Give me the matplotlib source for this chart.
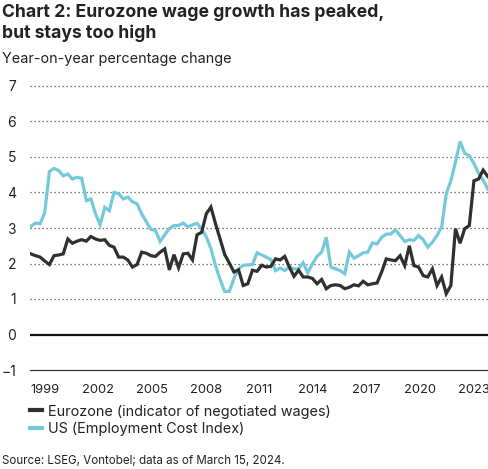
import numpy as np
import matplotlib
matplotlib.use("Agg")
import matplotlib.pyplot as plt

# quarterly, 1999Q1 - 2023Q4, year-on-year % change
eurozone = [2.27, 2.22, 2.18, 2.07, 1.97, 2.22, 2.24, 2.27, 2.69, 2.57,
            2.63, 2.67, 2.63, 2.76, 2.69, 2.65, 2.67, 2.51, 2.46, 2.18,
            2.18, 2.10, 1.90, 1.97, 2.32, 2.29, 2.22, 2.20, 2.32, 2.41,
            1.82, 2.25, 1.88, 2.27, 2.29, 2.10, 2.81, 2.88, 3.40, 3.59,
            3.12, 2.69, 2.25, 2.01, 1.76, 1.82, 1.38, 1.43, 1.81, 1.78,
            1.95, 1.90, 1.92, 2.13, 2.10, 2.20, 1.90, 1.64, 1.81, 1.62,
            1.62, 1.58, 1.43, 1.55, 1.29, 1.38, 1.40, 1.38, 1.29, 1.33,
            1.40, 1.37, 1.50, 1.40, 1.43, 1.45, 1.76, 2.13, 2.10, 2.08,
            2.22, 1.94, 2.50, 1.94, 1.90, 1.66, 1.62, 1.85, 1.38, 1.62,
            1.15, 1.38, 2.98, 2.57, 2.98, 3.07, 4.33, 4.38, 4.63, 4.45]

us_eci = [3.05, 3.14, 3.12, 3.44, 4.59, 4.68, 4.62, 4.47, 4.52, 4.38,
          4.43, 4.40, 3.77, 3.82, 3.40, 3.09, 3.58, 3.49, 4.00, 3.97,
          3.82, 3.87, 3.74, 3.68, 3.40, 3.18, 2.96, 2.93, 2.62, 2.81,
          2.98, 3.07, 3.07, 3.14, 3.03, 3.09, 3.13, 2.98, 2.75, 2.42,
          1.94, 1.55, 1.21, 1.22, 1.58, 1.85, 1.95, 1.96, 1.97, 2.30,
          2.24, 2.18, 2.11, 1.80, 1.87, 1.80, 1.90, 1.85, 1.85, 2.02,
          1.74, 1.99, 2.20, 2.32, 2.74, 1.90, 1.85, 1.80, 1.71, 2.32,
          2.15, 2.22, 2.30, 2.32, 2.58, 2.55, 2.74, 2.83, 2.83, 2.95,
          2.79, 2.62, 2.67, 2.65, 2.79, 2.67, 2.46, 2.60, 2.79, 3.02,
          3.96, 4.33, 4.85, 5.44, 5.10, 5.04, 4.82, 4.54, 4.35, 4.10]

tick_years = ['1999', '2002', '2005', '2008', '2011', '2014', '2017', '2020', '2023']
y_ticks = [-1, 0, 1, 2, 3, 4, 5, 6, 7]
labels = ['Eurozone (indicator of negotiated wages)', 'US (Employment Cost Index)']

plt.rcParams['font.family'] = ['Inter', 'DejaVu Sans']
txt = '#222222'

fig = plt.figure(figsize=(4.89, 4.69), dpi=100)
ax = fig.add_axes([30 / 489, 1 - 370 / 469, 458 / 489, 284 / 469])

x = np.arange(len(eurozone))
us_line, = ax.plot(x, us_eci, color='#74c9dc', lw=2.3, solid_joinstyle='miter', zorder=3)
ez_line, = ax.plot(x, eurozone, color='#303030', lw=2.3, solid_joinstyle='miter', zorder=4)

ax.set_xlim(-0.2, 99.05)
ax.set_ylim(-1, 7)

for v in range(1, 8):
    ax.axhline(v, color='#555555', lw=0.9, ls=(0, (1, 2.2)), zorder=1, clip_on=False)
ax.axhline(0, color='#111111', lw=1.6, zorder=2)
ax.axhline(-1, color='#333333', lw=0.9, zorder=2, clip_on=False)

for s in ax.spines.values():
    s.set_visible(False)

ax.set_yticks(y_ticks)
ax.set_yticklabels(['\u22121' if t < 0 else str(t) for t in y_ticks])
ax.set_xticks(np.linspace(3.03, 95.9, len(tick_years)))
ax.set_xticklabels(tick_years)
ax.tick_params(axis='y', length=0, pad=10, labelsize=10, labelcolor=txt)
ax.tick_params(axis='x', length=0, pad=10, labelsize=9.3, labelcolor=txt)

fig.text(2 / 489, 1 - 16.7 / 469, 'Chart 2: Eurozone wage growth has peaked,',
         fontsize=12.7, fontweight='bold', color=txt, va='baseline')
fig.text(2 / 489, 1 - 38.3 / 469, 'but stays too high',
         fontsize=12.7, fontweight='bold', color=txt, va='baseline')
fig.text(2 / 489, 1 - 63 / 469, 'Year-on-year percentage change',
         fontsize=10.4, color=txt, va='baseline')

leg = fig.legend([ez_line, us_line], labels,
                 loc='upper left', bbox_to_anchor=(30 / 489, 1 - 404.5 / 469),
                 frameon=False, fontsize=10.4,
                 handlelength=0.8, handletextpad=0.45, labelspacing=0.27,
                 borderpad=0, borderaxespad=0)
for t in leg.get_texts():
    t.set_color(txt)
for h in leg.get_lines():
    h.set_linewidth(3)

fig.text(2 / 489, 1 - 464 / 469, 'Source: LSEG, Vontobel; data as of March 15, 2024.',
         fontsize=8.3, color=txt, va='baseline')

fig.savefig('out.png', dpi=100)
